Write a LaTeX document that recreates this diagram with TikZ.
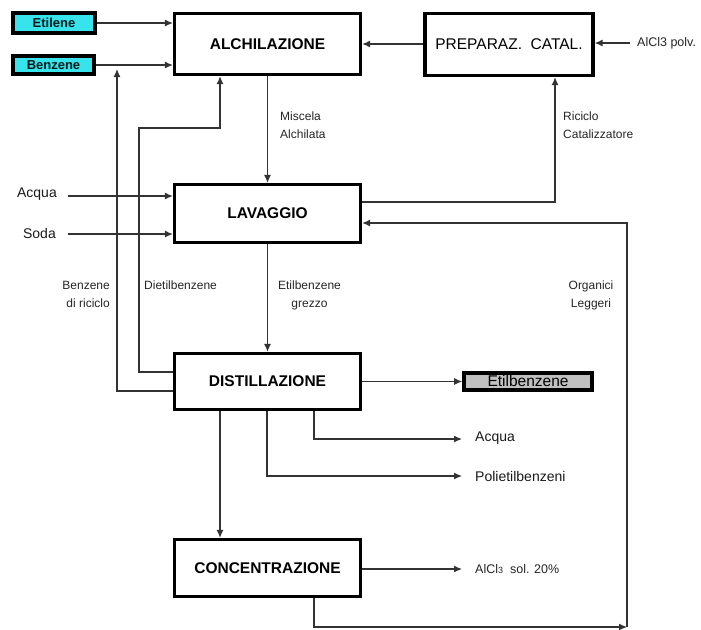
\documentclass[tikz,border=0pt]{standalone}
\usepackage{fontspec}
\setmainfont{Liberation Sans}
\usetikzlibrary{arrows.meta}
\definecolor{feedc}{RGB}{55,228,236}
\definecolor{prodc}{RGB}{192,192,192}
\begin{document}
\begin{tikzpicture}[x=1pt,y=-1pt,
  box/.style={draw=black,line width=3.3pt,fill=white,inner sep=0pt,
    font=\fontsize{15.5}{18}\selectfont\bfseries},
  feed/.style={draw=black,line width=3.6pt,fill=feedc,inner sep=0pt,
    font=\fontsize{13}{15}\selectfont\bfseries,text=black!80!teal},
  prod/.style={draw=black,line width=3.6pt,fill=prodc,inner sep=0pt,
    font=\fontsize{15.5}{15}\selectfont},
  lbl/.style={inner sep=0pt,font=\fontsize{12}{18}\selectfont,text=black!85},
  big/.style={inner sep=0pt,font=\fontsize{14}{16}\selectfont,text=black!90},
  ln/.style={draw=black!80,line width=1.2pt},
  arr/.style={ln,-{Latex[length=8pt,width=7pt]}}]
\useasboundingbox[fill=white] (0,0) rectangle (701,629);

% process blocks
\node[box,minimum width=186pt,minimum height=61pt] (alch) at (267.5,44) {ALCHILAZIONE};
\node[box,minimum width=168pt,minimum height=62pt,font=\fontsize{15.5}{18}\selectfont] (prep) at (509,44.5) {PREPARAZ.\ \ CATAL.};
\node[box,minimum width=186pt,minimum height=58pt] (lav) at (267.5,213.5) {LAVAGGIO};
\node[box,minimum width=186pt,minimum height=56pt] (dist) at (267.5,381.5) {DISTILLAZIONE};
\node[box,minimum width=186pt,minimum height=57pt] (conc) at (267.5,568) {CONCENTRAZIONE};

% feeds and product
\node[feed,minimum width=82pt,minimum height=20pt] (etil) at (54,23) {Etilene};
\node[feed,minimum width=81pt,minimum height=18pt] (benz) at (53.5,65) {Benzene};
\node[prod,minimum width=128pt,minimum height=17pt] (etb) at (528,381.5) {\raisebox{2pt}{Etilbenzene}};

% plain text streams
\node[big,anchor=east] (acqin) at (57,194) {Acqua};
\node[big,anchor=east] (sodain) at (56,233) {Soda};
\node[lbl,anchor=west,font=\fontsize{12.5}{14}\selectfont] (polv) at (637,43) {AlCl3 polv.};
\node[big,anchor=west] (acqout) at (475,438) {Acqua};
\node[big,anchor=west] (poli) at (475,476) {Polietilbenzeni};
\node[lbl,anchor=west,font=\fontsize{12.5}{14}\selectfont] (alsol) at (475,569) {AlCl{\fontsize{9}{10}\selectfont 3}\ \ sol. 20\%};

% stream labels
\node[lbl,anchor=north west,align=left] (lmisc) at (280,112) {Miscela\\Alchilata};
\node[lbl,anchor=north west,align=left] (lric) at (563,112) {Riciclo\\Catalizzatore};
\node[lbl,anchor=north east,align=right] (lbr) at (110,281) {Benzene\\di riciclo};
\node[lbl,anchor=north west] (ldie) at (144,281) {Dietilbenzene};
\node[lbl,anchor=north,align=center] (lgrez) at (309.5,281) {Etilbenzene\\grezzo};
\node[lbl,anchor=north,align=center] (lorg) at (591,281) {Organici\\Leggeri};

% bend points
\coordinate (rcat) at (555,202);
\coordinate (org) at (627,223);
\coordinate (orgb) at (627,627);
\coordinate (concb) at (314,627);
\coordinate (brc) at (117,391);
\coordinate (brtop) at (117,69);
\coordinate (dieb) at (139,372);
\coordinate (diet) at (139,128);
\coordinate (dier) at (220,128);
\coordinate (acqb) at (314,439);
\coordinate (acqe) at (462,439);
\coordinate (polb) at (267,476);
\coordinate (pole) at (462,476);
\coordinate (conct) at (220,420);
\coordinate (sole) at (462,569);
\coordinate (polvs) at (630,43);
\coordinate (acqs) at (68,196);
\coordinate (sodas) at (68,234);

% feeds into alkylation
\draw[arr] (etil.east) -- (etil.east -| alch.west);
\draw[arr] (benz.east) -- (benz.east -| alch.west);
\draw[arr] (polvs) -- (polvs -| prep.east);
\draw[arr] (prep.west |- alch.east) -- (alch.east);

% main train
\draw[arr] (alch.south) -- (lav.north);
\draw[arr] (lav.south) -- (dist.north);
\draw[arr] (acqs) -- (acqs -| lav.west);
\draw[arr] (sodas) -- (sodas -| lav.west);

% catalyst recycle
\draw[arr] (lav.east |- rcat) -- (rcat) -- (rcat |- prep.south);

% recycles from distillation
\draw[arr] (dist.west |- brc) -- (brc) -- (brtop);
\draw[arr] (dist.west |- dieb) -- (dieb) -- (diet) -- (dier) -- (dier |- alch.south);

% distillation products
\draw[arr] (dist.east) -- (etb.west);
\draw[arr] (acqb |- dist.south) -- (acqb) -- (acqe);
\draw[arr] (polb |- dist.south) -- (polb) -- (pole);
\draw[arr] (conct |- dist.south) -- (conct |- conc.north);

% concentration
\draw[arr] (conc.east |- sole) -- (sole);
\draw[arr] (concb |- conc.south) -- (concb) -- (orgb);
\draw[arr] (orgb) -- (org) -- (org -| lav.east);
\end{tikzpicture}
\end{document}
